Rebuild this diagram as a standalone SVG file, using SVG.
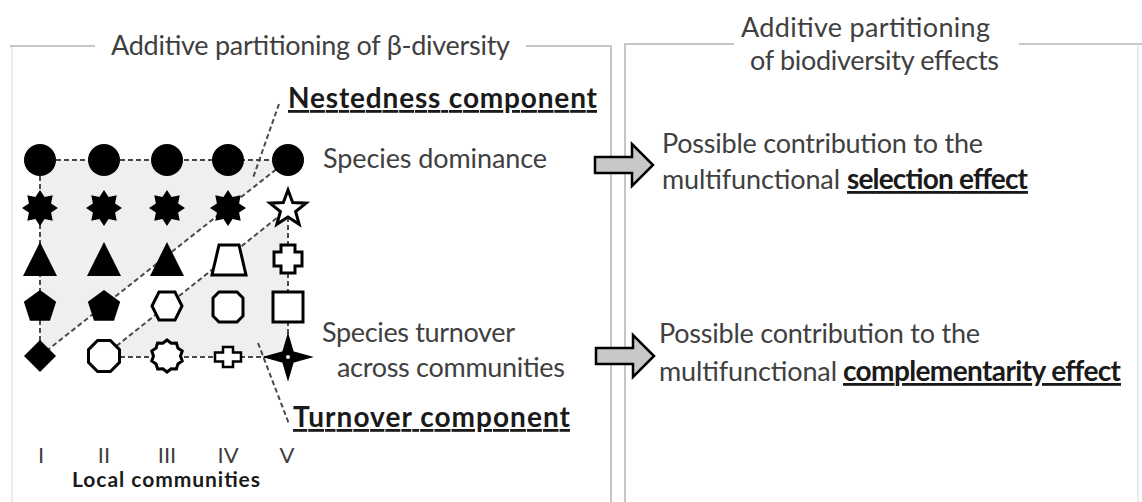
<svg xmlns="http://www.w3.org/2000/svg" width="1142" height="502" viewBox="0 0 1142 502">
<style>
.t{font-family:Lato,"Liberation Sans",sans-serif;font-size:27px;fill:#404040}
.b{font-family:Lato,"Liberation Sans",sans-serif;font-size:28px;font-weight:bold;fill:#1a1a1a;text-decoration:underline}
.frame{stroke:#b4b4b4;stroke-width:1.5;fill:none}
.faint{stroke:#e4e4e4;stroke-width:1.5;fill:none}
.dash{stroke:#4a4a4a;stroke-width:2;stroke-dasharray:5 3;fill:none}
.fill{fill:#000}
.open{fill:#fff;stroke:#000;stroke-width:3;stroke-linejoin:miter}
.arrow{fill:#c8c8c8;stroke:#000;stroke-width:2.5;stroke-linejoin:miter}
.shade{fill:#efefef}
</style>
<defs>
<circle id="circ" r="16"/>
<polygon id="star8" points="0,-18 4.6,-11.1 12.73,-12.73 11.1,-4.6 18,0 11.1,4.6 12.73,12.73 4.6,11.1 0,18 -4.6,11.1 -12.73,12.73 -11.1,4.6 -18,0 -11.1,-4.6 -12.73,-12.73 -4.6,-11.1"/>
<polygon id="tri" points="0,-17 17,17 -17,17"/>
<polygon id="pent" points="0,-17 16.17,-5.25 9.99,13.75 -9.99,13.75 -16.17,-5.25"/>
</defs>
<rect width="1142" height="502" fill="#fff"/>

<g id="frames">
<line class="faint" x1="12" y1="46" x2="12" y2="502"/>
<polyline class="frame" points="10,46 95,46"/>
<polyline class="frame" points="526,46 611,46 611,502"/>
<polyline class="frame" points="734,44 625,44 625,502"/>
<polyline class="frame" points="1019,44 1142,44"/>
<line class="faint" x1="1138" y1="44" x2="1138" y2="502"/>
</g>

<g id="shading">
<polygon class="shade" points="40,160 288,160 40,356"/>
<polygon class="shade" points="104,356 288,209 288,357"/>
</g>

<g id="connectors">
<line class="dash" x1="40" y1="160" x2="288" y2="160"/>
<line class="dash" x1="40" y1="160" x2="40" y2="356"/>
<line class="dash" x1="288" y1="209" x2="288" y2="357"/>
<line class="dash" x1="104" y1="357" x2="288" y2="357"/>
<line class="dash" x1="40" y1="356" x2="288" y2="160"/>
<line class="dash" x1="104" y1="356" x2="288" y2="209"/>
<line class="dash" x1="279" y1="104" x2="253" y2="178"/>
<line class="dash" x1="258" y1="343" x2="289" y2="424"/>
</g>

<g id="row1">
<use href="#circ" class="fill" x="40" y="160"/>
<use href="#circ" class="fill" x="104" y="160"/>
<use href="#circ" class="fill" x="167" y="160"/>
<use href="#circ" class="fill" x="228" y="160"/>
<use href="#circ" class="fill" x="288" y="160"/>
</g>
<g id="row2">
<use href="#star8" class="fill" x="40" y="208"/>
<use href="#star8" class="fill" x="104" y="208"/>
<use href="#star8" class="fill" x="167" y="208"/>
<use href="#star8" class="fill" x="228" y="208"/>
<polygon class="open" transform="translate(288,209)" points="0,-19 4.70,-6.47 18.07,-5.87 7.61,2.47 11.17,15.37 0,8 -11.17,15.37 -7.61,2.47 -18.07,-5.87 -4.70,-6.47"/>
</g>
<g id="row3">
<use href="#tri" class="fill" x="40" y="259"/>
<use href="#tri" class="fill" x="104" y="259"/>
<use href="#tri" class="fill" x="167" y="259"/>
<polygon class="open" transform="translate(229,260)" points="-10,-15 10,-15 17,15 -17,15"/>
<polygon class="open" transform="translate(288,259)" points="-7,-14 7,-14 7,-7 14,-7 14,7 7,7 7,14 -7,14 -7,7 -14,7 -14,-7 -7,-7"/>
</g>
<g id="row4">
<use href="#pent" class="fill" x="40" y="307"/>
<use href="#pent" class="fill" x="104" y="307"/>
<polygon class="open" transform="translate(167,306)" points="-15,0 -8,-14 8,-14 15,0 8,14 -8,14"/>
<polygon class="open" transform="translate(228,307)" points="-9,-15 9,-15 15,-9 15,9 9,15 -9,15 -15,9 -15,-9"/>
<rect class="open" x="273" y="292" width="30" height="30"/>
</g>
<g id="row5">
<polygon class="fill" transform="translate(40,356)" points="0,-16 16,0 0,16 -16,0"/>
<polygon class="open" transform="translate(104,356)" points="6.43,-15.52 15.52,-6.43 15.52,6.43 6.43,15.52 -6.43,15.52 -15.52,6.43 -15.52,-6.43 -6.43,-15.52"/>
<polygon class="open" transform="translate(167,356)" points="0,-16 4.17,-12.84 9.40,-12.94 10.92,-7.94 15.22,-4.94 13.5,0 15.22,4.94 10.92,7.94 9.40,12.94 4.17,12.84 0,16 -4.17,12.84 -9.40,12.94 -10.92,7.94 -15.22,4.94 -13.5,0 -15.22,-4.94 -10.92,-7.94 -9.40,-12.94 -4.17,-12.84"/>
<polygon class="open" style="stroke-width:2.5" transform="translate(228,357)" points="-5,-10 5,-10 5,-4.5 13,-4.5 13,4.5 5,4.5 5,10 -5,10 -5,4.5 -13,4.5 -13,-4.5 -5,-4.5"/>
<polygon class="fill" stroke="#000" stroke-width="1.5" transform="translate(288,357)" points="0,-22 5,-5 23,0 5,5 0,22 -5,5 -23,0 -5,-5"/>
<circle cx="288" cy="357" r="2" fill="#fff"/>
</g>

<g id="left-labels">
<text class="t" x="111" y="55" textLength="399">Additive partitioning of β-diversity</text>
<text class="b" x="288" y="108" textLength="309">Nestedness component</text>
<text class="t" x="323" y="168" textLength="224">Species dominance</text>
<text class="t" x="322" y="342" textLength="193">Species turnover</text>
<text class="t" x="337" y="377" textLength="228">across communities</text>
<text class="b" x="293" y="427" textLength="277">Turnover component</text>
<g class="t" style="font-size:22px" text-anchor="middle">
<text x="41" y="463">I</text>
<text x="104" y="463">II</text>
<text x="167" y="463">III</text>
<text x="228" y="463">IV</text>
<text x="287" y="463">V</text>
</g>
<text class="t" style="font-size:21px;font-weight:bold;fill:#1a1a1a" x="72" y="487" textLength="188">Local communities</text>
</g>

<g id="arrow-selection">
<polygon class="arrow" points="595,157 632,157 632,144 653,165 632,186 632,173 595,173"/>
</g>
<g id="arrow-complementarity">
<polygon class="arrow" points="596,348 633,348 633,335 654,356 633,377 633,364 596,364"/>
</g>

<g id="right-labels">
<text class="t" x="741" y="37" textLength="249">Additive partitioning</text>
<text class="t" x="750" y="70" textLength="249">of biodiversity effects</text>
<text class="t" x="662" y="153" textLength="321">Possible contribution to the</text>
<text class="t" x="662" y="189"><tspan textLength="178">multifunctional</tspan><tspan class="b" x="847" textLength="181">selection effect</tspan></text>
<text class="t" x="659" y="343" textLength="321">Possible contribution to the</text>
<text class="t" x="659" y="381"><tspan textLength="178">multifunctional</tspan><tspan class="b" x="843" textLength="278">complementarity effect</tspan></text>
</g>
</svg>
